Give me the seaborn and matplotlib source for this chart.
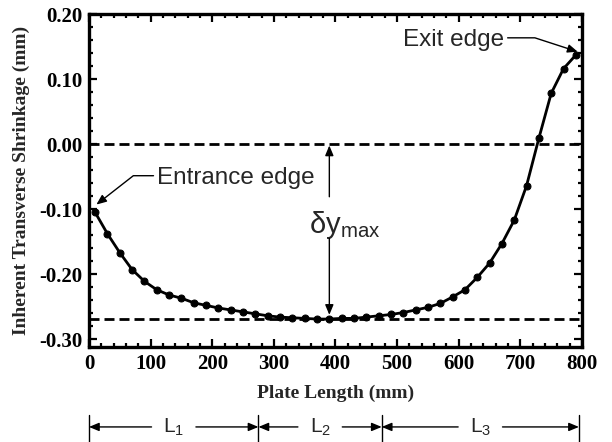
import pandas as pd
import matplotlib
matplotlib.use('Agg')
import matplotlib.pyplot as plt
import matplotlib.transforms as mtransforms
from matplotlib.ticker import MultipleLocator, FormatStrFormatter
import seaborn as sns


# measured points along the plate (mm) and inherent transverse shrinkage (mm)
plate_length = [10, 30, 50, 70, 90, 110, 130, 150, 170, 190,
                210, 230, 250, 270, 290, 310, 330, 350, 370, 390,
                410, 430, 450, 470, 490, 510, 530, 550, 570, 590,
                610, 630, 650, 670, 690, 710, 730, 750, 770, 790]
shrinkage = [-0.105, -0.138, -0.167, -0.193, -0.211, -0.224, -0.232, -0.237, -0.244, -0.248,
             -0.252, -0.255, -0.258, -0.261, -0.264, -0.266, -0.267, -0.268, -0.269, -0.269,
             -0.268, -0.268, -0.266, -0.264, -0.262, -0.259, -0.255, -0.251, -0.245, -0.235,
             -0.224, -0.205, -0.183, -0.153, -0.117, -0.064, 0.009, 0.078, 0.116, 0.137]

# regions marked under the x axis
zone_edges = [0, 275, 475, 795]
zone_labels = [r'$\mathregular{L_1}$', r'$\mathregular{L_2}$', r'$\mathregular{L_3}$']

df = pd.DataFrame({'Plate Length (mm)': plate_length, 'Shrinkage': shrinkage})
dy_max = df['Shrinkage'].min()

sns.set_style('ticks')
plt.rcParams['font.family'] = ['Liberation Serif', 'DejaVu Serif']
plt.rcParams['font.weight'] = 'bold'
plt.rcParams['axes.unicode_minus'] = False
sans = ['Liberation Sans', 'DejaVu Sans']

fig = plt.figure(figsize=(6.12, 4.42), dpi=100)
ax = fig.add_axes([0.1454, 0.2149, 0.8056, 0.7534])

ax.axhline(0, color='black', lw=2, dashes=(3.6, 1.8), zorder=1)
ax.axhline(dy_max, color='black', lw=2, dashes=(3.6, 1.8), zorder=1)

sns.lineplot(data=df, x='Plate Length (mm)', y='Shrinkage', ax=ax, color='black',
             lw=2, marker='o', markersize=5, markeredgecolor='black', zorder=3)

ax.set_xlim(0, 800)
ax.set_ylim(-0.312, 0.20)
ax.xaxis.set_major_locator(MultipleLocator(100))
ax.xaxis.set_minor_locator(MultipleLocator(20))
ax.yaxis.set_major_locator(MultipleLocator(0.10))
ax.yaxis.set_minor_locator(MultipleLocator(0.02))
ax.yaxis.set_major_formatter(FormatStrFormatter('%.2f'))
ax.tick_params(which='both', direction='in', top=True, right=True, width=1.6,
               labelsize=15, colors='black')
ax.tick_params(which='major', length=6, pad=5)
ax.tick_params(which='minor', length=3)
for sp in ax.spines.values():
    sp.set_linewidth(2.4)
    sp.set_color('black')

ax.set_xlabel('Plate Length (mm)', fontsize=14, fontweight='bold', labelpad=8)
ax.set_ylabel('Inherent Transverse Shrinkage (mm)', fontsize=14, fontweight='bold', labelpad=6)

head = '-|>,head_length=0.6,head_width=0.25'

ax.annotate('Entrance edge', xy=(12, -0.093), xytext=(110, -0.052),
            ha='left', va='center', fontsize=17.5, fontweight='normal', family=sans,
            arrowprops=dict(arrowstyle=head, mutation_scale=10, color='black', lw=1,
                            connectionstyle='angle,angleA=0,angleB=38,rad=0',
                            relpos=(0, 0.6), shrinkA=0, shrinkB=0))
ax.annotate('Exit edge', xy=(793, 0.142), xytext=(674, 0.16),
            ha='right', va='center', fontsize=17.5, fontweight='normal', family=sans,
            arrowprops=dict(arrowstyle=head, mutation_scale=10, color='black', lw=1,
                            connectionstyle='angle,angleA=0,angleB=-18,rad=0',
                            relpos=(1, 0.6), shrinkA=0, shrinkB=0))

ax.text(415, -0.125, r'$\mathregular{δy_{max}}$', ha='center', va='center',
        fontsize=21, fontweight='normal', family=sans)
ax.annotate('', xy=(390, 0), xytext=(390, -0.081),
            arrowprops=dict(arrowstyle=head, mutation_scale=10, color='black', lw=1,
                            shrinkA=0, shrinkB=1))
ax.annotate('', xy=(390, dy_max), xytext=(390, -0.145),
            arrowprops=dict(arrowstyle=head, mutation_scale=10, color='black', lw=1,
                            shrinkA=0, shrinkB=3))

# L1 / L2 / L3 spans below the axis
trans = mtransforms.blended_transform_factory(ax.transData, ax.transAxes)
zy = -0.24
for edge in zone_edges:
    ax.plot([edge, edge], [-0.205, -0.30], transform=trans, color='black', lw=1, clip_on=False)
for lab, a, b in zip(zone_labels, zone_edges[:-1], zone_edges[1:]):
    mid = (a + b) / 2
    ax.text(mid, zy, lab, transform=trans, ha='center', va='center', fontsize=15,
            fontweight='normal', family=sans)
    for start, end in [(mid - 36, a), (mid + 36, b)]:
        ax.annotate('', xy=(end, zy), xytext=(start, zy), xycoords=trans, textcoords=trans,
                    annotation_clip=False,
                    arrowprops=dict(arrowstyle=head, mutation_scale=10, color='black', lw=1,
                                    shrinkA=0, shrinkB=0))

plt.savefig('out.png', dpi=100)
